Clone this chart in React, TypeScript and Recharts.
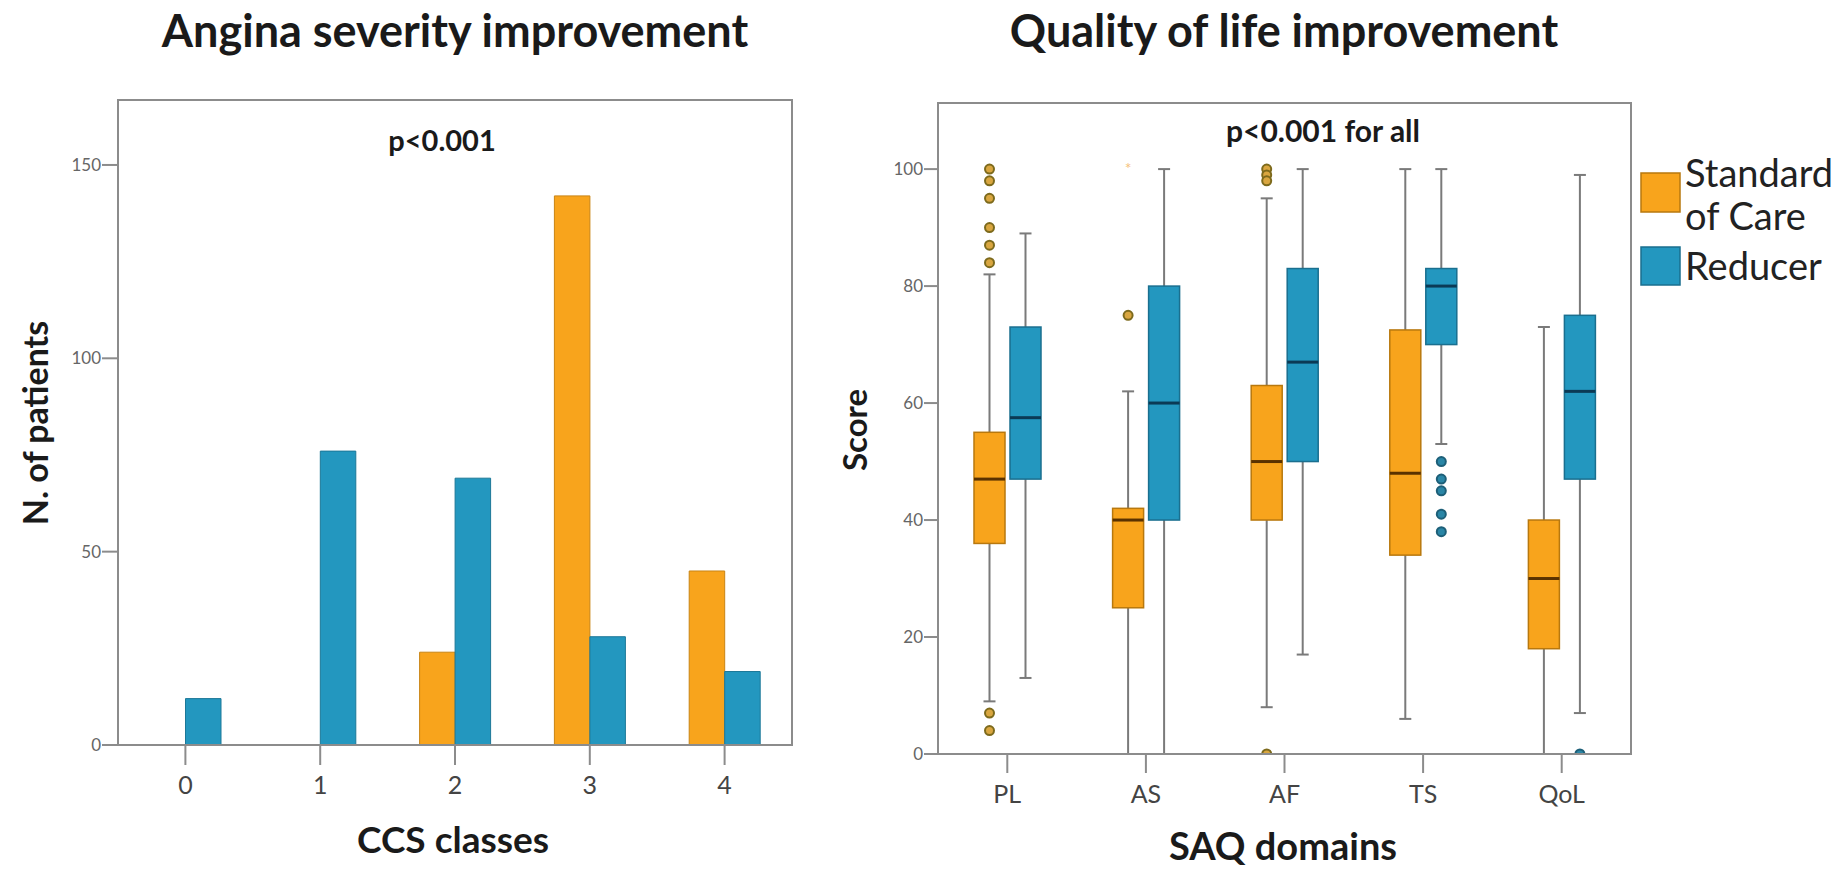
import React from "react";
import { BarChart, Bar, ComposedChart, XAxis, YAxis } from "recharts";

// left panel: CCS class counts
const ccsClasses = ["0", "1", "2", "3", "4"];
const standardOfCare = [0, 0, 24, 142, 45];
const reducer = [12, 76, 69, 28, 19];
const countTicks = [0, 50, 100, 150];

// right panel: SAQ domain box plots
const saqDomains = ["PL", "AS", "AF", "TS", "QoL"];
const socLow = [9, 0, 8, 6, 0];
const socQ1 = [36, 25, 40, 34, 18];
const socMedian = [47, 40, 50, 48, 30];
const socQ3 = [55, 42, 63, 72.5, 40];
const socHigh = [82, 62, 95, 100, 73];
const socOutliers = [[100, 98, 95, 90, 87, 84, 7, 4], [75], [100, 99, 98, 0], [], []];
const socExtremes = [[], [100], [], [], []];
const redLow = [13, 0, 17, 53, 7];
const redQ1 = [47, 40, 50, 70, 47];
const redMedian = [57.5, 60, 67, 80, 62];
const redQ3 = [73, 80, 83, 83, 75];
const redHigh = [89, 100, 100, 100, 99];
const redOutliers = [[], [], [], [50, 47, 45, 41, 38], [0]];
const redExtremes = [[], [], [], [], []];
const scoreTicks = [0, 20, 40, 60, 80, 100];

const ORANGE = "#F8A41C";
const BLUE = "#2397BF";
const FRAME = "#8c8c8c";
const FONT = "Lato, 'Open Sans', sans-serif";

const countRows = ccsClasses.map((c, i) => ({
  ccs: c,
  soc: standardOfCare[i],
  red: reducer[i],
}));

const boxRows = saqDomains.map((d, i) => ({
  domain: d,
  soc: {
    lo: socLow[i], q1: socQ1[i], med: socMedian[i], q3: socQ3[i], hi: socHigh[i],
    out: socOutliers[i], ext: socExtremes[i],
  },
  red: {
    lo: redLow[i], q1: redQ1[i], med: redMedian[i], q3: redQ3[i], hi: redHigh[i],
    out: redOutliers[i], ext: redExtremes[i],
  },
}));

type BoxStats = { lo: number; q1: number; med: number; q3: number; hi: number; out: number[]; ext: number[] };

const extent = (s: BoxStats) => {
  const all = [s.lo, s.hi, ...s.out, ...s.ext];
  return [Math.min(...all), Math.max(...all)];
};

// draws whiskers, box, median and outliers inside the pixel range the Bar gets for [min, max]
function makeBoxShape(key: "soc" | "red", fill: string, edge: string, medColor: string, outStroke: string, outFill: string) {
  return (props: any) => {
    const { x, y, width, height, payload } = props;
    const s: BoxStats = payload[key];
    const [vMin, vMax] = extent(s);
    const top = Math.min(y, y + height);
    const bottom = Math.max(y, y + height);
    const py = (v: number) => bottom - ((v - vMin) / (vMax - vMin)) * (bottom - top);
    const cx = x + width / 2;
    const cap = 6;
    return (
      <g>
        <line x1={cx} x2={cx} y1={py(s.lo)} y2={py(s.hi)} stroke="#7a7a7a" strokeWidth={2} />
        <line x1={cx - cap} x2={cx + cap} y1={py(s.hi)} y2={py(s.hi)} stroke="#7a7a7a" strokeWidth={2} />
        <line x1={cx - cap} x2={cx + cap} y1={py(s.lo)} y2={py(s.lo)} stroke="#7a7a7a" strokeWidth={2} />
        <rect x={x} y={py(s.q3)} width={width} height={py(s.q1) - py(s.q3)} fill={fill} stroke={edge} strokeWidth={1.5} />
        <line x1={x} x2={x + width} y1={py(s.med)} y2={py(s.med)} stroke={medColor} strokeWidth={3} />
        {s.out.map((v, i) => (
          <circle key={i} cx={cx} cy={py(v)} r={4.5} fill={outFill} stroke={outStroke} strokeWidth={2} />
        ))}
        {s.ext.map((v, i) => (
          <text key={"e" + i} x={cx} y={py(v) + 5} textAnchor="middle" fontSize={16} fill="#f6c27a">*</text>
        ))}
      </g>
    );
  };
}

const axisLine = { stroke: FRAME, strokeWidth: 2 };

export default function App() {
  return (
    <div style={{ position: "absolute", left: 0, top: 0, width: 1847, height: 872, background: "#fff", fontFamily: FONT }}>
      <div style={{ position: "absolute", left: 0, top: 0 }}>
        <BarChart
          width={900}
          height={872}
          data={countRows}
          margin={{ top: 100, left: 58, right: 108, bottom: 47 }}
          barGap={0}
          barSize={35.5}
        >
          <XAxis
            dataKey="ccs"
            height={80}
            tickSize={20}
            tickMargin={11}
            axisLine={axisLine}
            tickLine={axisLine}
            tick={{ fontSize: 25, fill: "#444", fontFamily: FONT }}
          />
          <YAxis
            width={60}
            domain={[0, 166.8]}
            allowDataOverflow
            ticks={countTicks}
            tickSize={16}
            tickMargin={1}
            axisLine={axisLine}
            tickLine={axisLine}
            tick={{ fontSize: 17, fill: "#666", fontFamily: FONT }}
          />
          <Bar dataKey="soc" name="Standard of Care" fill={ORANGE} stroke="#c98414" strokeWidth={1} isAnimationActive={false} />
          <Bar dataKey="red" name="Reducer" fill={BLUE} stroke="#1c7898" strokeWidth={1} isAnimationActive={false} />
        </BarChart>
      </div>

      <div style={{ position: "absolute", left: 820, top: 0 }}>
        <ComposedChart
          width={1027}
          height={872}
          data={boxRows}
          margin={{ top: 103, left: 58, right: 216, bottom: 48 }}
          barGap={5}
          barSize={31}
        >
          <XAxis
            dataKey="domain"
            height={70}
            tickSize={19}
            tickMargin={12}
            axisLine={axisLine}
            tickLine={axisLine}
            tick={{ fontSize: 25, fill: "#444", fontFamily: FONT }}
          />
          <YAxis
            width={60}
            domain={[0, 111.3]}
            allowDataOverflow
            ticks={scoreTicks}
            tickSize={14}
            tickMargin={1}
            axisLine={axisLine}
            tickLine={axisLine}
            tick={{ fontSize: 17, fill: "#666", fontFamily: FONT }}
          />
          <Bar
            dataKey={(r: any) => extent(r.soc)}
            name="Standard of Care"
            fill={ORANGE}
            isAnimationActive={false}
            shape={makeBoxShape("soc", ORANGE, "#b8780e", "#5a3200", "#7d6a1c", "#d9a640")}
          />
          <Bar
            dataKey={(r: any) => extent(r.red)}
            name="Reducer"
            fill={BLUE}
            isAnimationActive={false}
            shape={makeBoxShape("red", BLUE, "#1a6f8f", "#0b3a55", "#1d5f78", "#2a86a6")}
          />
        </ComposedChart>
      </div>

      <svg width={1847} height={872} style={{ position: "absolute", left: 0, top: 0, pointerEvents: "none" }}>
        {/* plot frames */}
        <rect x={118} y={100} width={674} height={645} fill="none" stroke={FRAME} strokeWidth={2} />
        <rect x={938} y={103} width={693} height={651} fill="none" stroke={FRAME} strokeWidth={2} />
        <g fontFamily={FONT} fill="#1a1a1a" fontWeight="bold">
          <text x={455} y={47} textAnchor="middle" fontSize={45}>Angina severity improvement</text>
          <text x={1284} y={47} textAnchor="middle" fontSize={45}>Quality of life improvement</text>
          <text x={442} y={151} textAnchor="middle" fontSize={29}>p&lt;0.001</text>
          <text x={1323} y={142} textAnchor="middle" fontSize={30}>p&lt;0.001 for all</text>
          <text x={453} y={853} textAnchor="middle" fontSize={37}>CCS classes</text>
          <text x={1283} y={860} textAnchor="middle" fontSize={38}>SAQ domains</text>
          <text transform="translate(48,423) rotate(-90)" textAnchor="middle" fontSize={34}>N. of patients</text>
          <text transform="translate(867,430) rotate(-90)" textAnchor="middle" fontSize={33}>Score</text>
        </g>
        <g fontFamily={FONT} fill="#222" fontSize={38}>
          <rect x={1641} y={173} width={39} height={39} fill={ORANGE} stroke="#b8780e" strokeWidth={1.5} />
          <text x={1685} y={187}>Standard</text>
          <text x={1685} y={230}>of Care</text>
          <rect x={1641} y={247} width={39} height={38} fill={BLUE} stroke="#1a6f8f" strokeWidth={1.5} />
          <text x={1685} y={280}>Reducer</text>
        </g>
      </svg>
    </div>
  );
}
